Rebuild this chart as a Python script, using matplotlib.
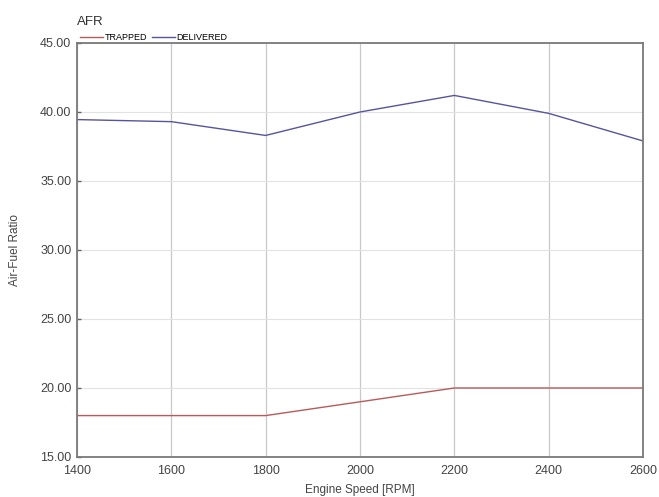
import matplotlib
matplotlib.use("Agg")
import matplotlib.pyplot as plt

# engine speed points and AFR values
rpm = [1400, 1600, 1800, 2000, 2200, 2400, 2600]
trapped = [18.0, 18.0, 18.0, 19.0, 20.0, 20.0, 20.0]
delivered = [39.45, 39.3, 38.3, 40.0, 41.2, 39.9, 37.9]

xticks = [1400, 1600, 1800, 2000, 2200, 2400, 2600]
yticks = [15, 20, 25, 30, 35, 40, 45]

plt.rcParams['font.family'] = ['Liberation Sans', 'DejaVu Sans']

fig = plt.figure(figsize=(6.59, 4.97), dpi=100)
ax = fig.add_axes([0.1168, 0.0805, 0.859, 0.833])

ax.plot(rpm, trapped, color='#b85a5a', lw=1.0, label='TRAPPED')
ax.plot(rpm, delivered, color='#55559e', lw=1.0, label='DELIVERED')

ax.set_xlim(1400, 2600)
ax.set_ylim(15, 45)
ax.set_xticks(xticks)
ax.set_yticks(yticks)
ax.set_yticklabels(['%.2f' % v for v in yticks])
ax.tick_params(axis='x', length=0, labelsize=9, colors='#444444', pad=6)
ax.tick_params(axis='y', direction='in', length=3, width=1, color='#666666',
               labelsize=9, labelcolor='#444444', pad=4)
ax.xaxis.grid(True, color='#c8c8c8', lw=0.9)
ax.yaxis.grid(True, color='#e2e2e2', lw=0.8)
ax.set_axisbelow(True)

for s in ax.spines.values():
    s.set_color('#7a7a7a')
    s.set_linewidth(1.3)

ax.set_xlabel('Engine Speed [RPM]', fontsize=8.5, color='#444444', labelpad=5)
ax.set_ylabel('Air-Fuel Ratio', fontsize=8.5, color='#444444', labelpad=14)

fig.text(0.1168, 0.955, 'AFR', fontsize=9.5, color='#333333', va='center')
ax.legend(loc='lower left', bbox_to_anchor=(0.005, 1.003), ncol=2, frameon=False,
          fontsize=6.5, handlelength=2.6, handletextpad=0.15, columnspacing=0.5,
          borderaxespad=0, borderpad=0)

fig.savefig('out.png', dpi=100)
